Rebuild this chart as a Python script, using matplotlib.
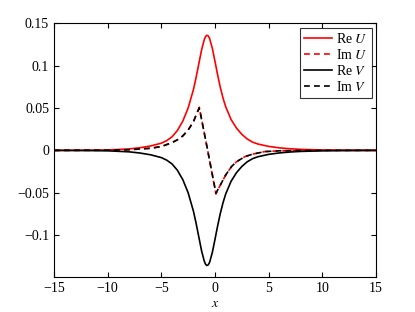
import numpy as np
import matplotlib
matplotlib.use('Agg')
import matplotlib.pyplot as plt

plt.rcParams['font.family'] = ['Liberation Serif', 'DejaVu Serif']
plt.rcParams['mathtext.fontset'] = 'stix'
plt.rcParams['axes.unicode_minus'] = True

# Re U / Re V
x_re = [-15, -12, -10, -8, -7, -6, -5, -4.5, -4, -3.5, -3, -2.5, -2, -1.75, -1.5,
        -1.25, -1.0, -0.875, -0.75, -0.625, -0.5, -0.25, 0, 0.25, 0.5, 0.75, 1.0,
        1.5, 2.0, 2.5, 3.0, 3.5, 4.0, 5.0, 6.0, 7.0, 8.0, 10, 12, 15]
re_u = [0.0, 0.0002, 0.0005, 0.0017, 0.0031, 0.0052, 0.0085, 0.0115, 0.0160, 0.0235,
        0.0345, 0.050, 0.0721, 0.0866, 0.1026, 0.1185, 0.1308, 0.1345, 0.136, 0.1352,
        0.1322, 0.1208, 0.1052, 0.0891, 0.0743, 0.0618, 0.0515, 0.0365, 0.0264,
        0.019, 0.0135, 0.0098, 0.0075, 0.0047, 0.0030, 0.0019, 0.0012, 0.0005,
        0.0002, 0.0]
re_v = [0.0, -0.0002, -0.0005, -0.0017, -0.0031, -0.0052, -0.0085, -0.0115, -0.0160, -0.0235,
        -0.0345, -0.050, -0.0721, -0.0866, -0.1026, -0.1185, -0.1308, -0.1345, -0.136, -0.1352,
        -0.1322, -0.1208, -0.1052, -0.0891, -0.0743, -0.0618, -0.0515, -0.0365, -0.0264,
        -0.019, -0.0135, -0.0098, -0.0075, -0.0047, -0.0030, -0.0019, -0.0012, -0.0005,
        -0.0002, 0.0]

# Im U / Im V
x_im = [-15, -10, -8, -6, -5, -4, -3.5, -3, -2.5, -2, -1.75, -1.46, -0.68, 0.09,
        0.5, 1, 1.55, 2, 2.8, 3.5, 4.66, 6, 8, 10, 15]
im_u = [0.0, 0.0002, 0.0008, 0.0025, 0.0045, 0.0092, 0.0125, 0.017, 0.024, 0.034,
        0.042, 0.051, 0.0, -0.0515, -0.041, -0.029, -0.019, -0.0135, -0.0073,
        -0.0045, -0.0014, -0.0005, -0.0002, 0.0, 0.0]
im_v = [0.0, 0.0002, 0.0008, 0.0025, 0.0045, 0.0092, 0.0125, 0.017, 0.024, 0.034,
        0.042, 0.050, 0.0, -0.0505, -0.041, -0.029, -0.019, -0.0135, -0.0073,
        -0.0045, -0.0014, -0.0005, -0.0002, 0.0, 0.0]

fig = plt.figure(figsize=(4.15, 3.12), dpi=100)
ax = fig.add_axes([0.130, 0.111, 0.776, 0.814])

dash = (3.5, 2.5)
ax.plot(x_re, re_u, color='red', lw=1.2, label='Re $U$')
ax.plot(x_im, im_u, color='red', lw=1.2, dashes=dash, label='Im $U$')
ax.plot(x_re, re_v, color='black', lw=1.2, label='Re $V$')
ax.plot(x_im, im_v, color='black', lw=1.2, dashes=dash, label='Im $V$')

ax.set_xlim(-15, 15)
ax.set_ylim(-0.15, 0.15)
ax.set_xticks([-15, -10, -5, 0, 5, 10, 15])
ax.set_yticks([-0.1, -0.05, 0, 0.05, 0.1, 0.15])
ax.set_yticklabels(['\u22120.1', '\u22120.05', '0', '0.05', '0.1', '0.15'])
ax.set_xticklabels(['\u221215', '\u221210', '\u22125', '0', '5', '10', '15'])
ax.tick_params(direction='in', top=True, right=True, length=3.5, width=0.8, labelsize=10)
for s in ax.spines.values():
    s.set_linewidth(0.8)
ax.set_xlabel('$x$', fontsize=10, labelpad=1)

leg = ax.legend(loc='upper right', fontsize=10, frameon=True, fancybox=False,
                edgecolor='black', handlelength=2.0, handletextpad=0.3,
                labelspacing=0.15, borderpad=0.3, borderaxespad=0.3)
leg.get_frame().set_linewidth(0.8)

fig.savefig('out.png', dpi=100)
